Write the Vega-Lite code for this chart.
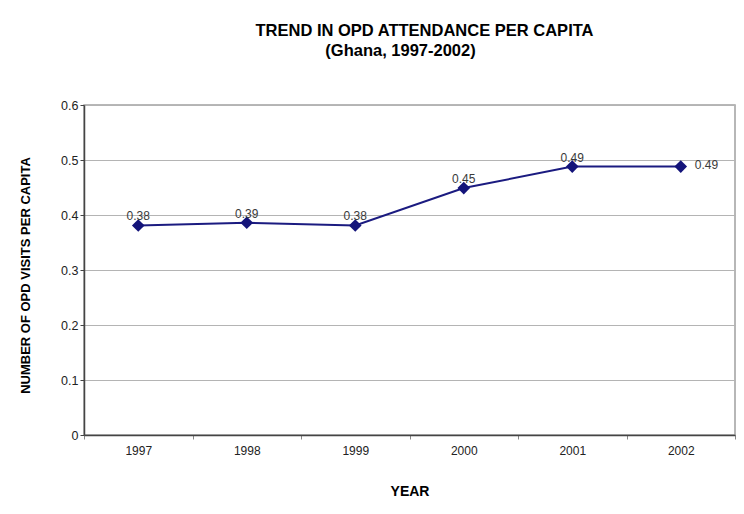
{
  "$schema": "https://vega.github.io/schema/vega-lite/v6.json",
  "autosize": {"type": "none"},
  "padding": {"left": 84, "top": 105, "right": 9, "bottom": 79},
  "width": 651,
  "height": 330,
  "background": "white",
  "title": {
    "text": "TREND IN OPD ATTENDANCE PER CAPITA",
    "subtitle": "(Ghana, 1997-2002)\u2800\u2800\u2800\u2800",
    "anchor": "middle",
    "frame": "group",
    "dx": 15,
    "offset": 40,
    "font": "Liberation Sans",
    "fontSize": 16.5,
    "fontWeight": "bold",
    "color": "#000000",
    "subtitleFont": "Liberation Sans",
    "subtitleFontSize": 16.5,
    "subtitleFontWeight": "bold",
    "subtitleColor": "#000000",
    "subtitlePadding": 3
  },
  "data": {
    "values": [
      {"year": "1997", "visits": 0.381},
      {"year": "1998", "visits": 0.386},
      {"year": "1999", "visits": 0.381},
      {"year": "2000", "visits": 0.449},
      {"year": "2001", "visits": 0.488},
      {"year": "2002", "visits": 0.488}
    ]
  },
  "encoding": {
    "x": {
      "field": "year",
      "type": "ordinal",
      "scale": {"type": "band", "paddingInner": 0, "paddingOuter": 0},
      "axis": {
        "title": "YEAR",
        "labelAngle": 0,
        "tickBand": "extent",
        "tickSize": 4,
        "tickColor": "#888888",
        "domainColor": "#444444",
        "domainWidth": 1.5,
        "labelPadding": 6,
        "labelFont": "Liberation Sans",
        "labelFontSize": 12,
        "labelColor": "#222222",
        "titleFont": "Liberation Sans",
        "titleFontSize": 14,
        "titleFontWeight": "bold",
        "titleColor": "#000000",
        "titlePadding": 28,
        "grid": false
      }
    },
    "y": {
      "field": "visits",
      "type": "quantitative",
      "scale": {"domain": [0, 0.6], "nice": false},
      "axis": {
        "title": "NUMBER OF OPD VISITS PER CAPITA",
        "titleY": 170,
        "values": [0, 0.1, 0.2, 0.3, 0.4, 0.5, 0.6],
        "format": ".1~f",
        "tickSize": 4,
        "tickColor": "#444444",
        "domainColor": "#444444",
        "domainWidth": 1.5,
        "labelPadding": 2,
        "labelFont": "Liberation Sans",
        "labelFontSize": 12.5,
        "labelColor": "#222222",
        "titleFont": "Liberation Sans",
        "titleFontSize": 13,
        "titleFontWeight": "bold",
        "titleColor": "#000000",
        "titlePadding": 28,
        "grid": true,
        "gridColor": "#b4b4b4",
        "gridWidth": 1.2
      }
    }
  },
  "layer": [
    {
      "mark": {"type": "line", "color": "#1b1b80", "strokeWidth": 2}
    },
    {
      "mark": {"type": "point", "shape": "diamond", "filled": true, "opacity": 1, "color": "#14147a", "size": 160}
    },
    {
      "transform": [{"filter": "datum.year !== '2002'"}],
      "mark": {"type": "text", "align": "center", "baseline": "alphabetic", "dy": -5, "font": "Liberation Sans", "fontSize": 12, "color": "#3a3a3a"},
      "encoding": {"text": {"field": "visits", "type": "quantitative", "format": ".2f"}}
    },
    {
      "transform": [{"filter": "datum.year === '2002'"}],
      "mark": {"type": "text", "align": "left", "baseline": "middle", "dx": 14, "dy": -2, "font": "Liberation Sans", "fontSize": 12, "color": "#3a3a3a"},
      "encoding": {"text": {"field": "visits", "type": "quantitative", "format": ".2f"}}
    }
  ],
  "config": {
    "view": {"stroke": "#a0a0a0", "strokeWidth": 1.5}
  }
}
